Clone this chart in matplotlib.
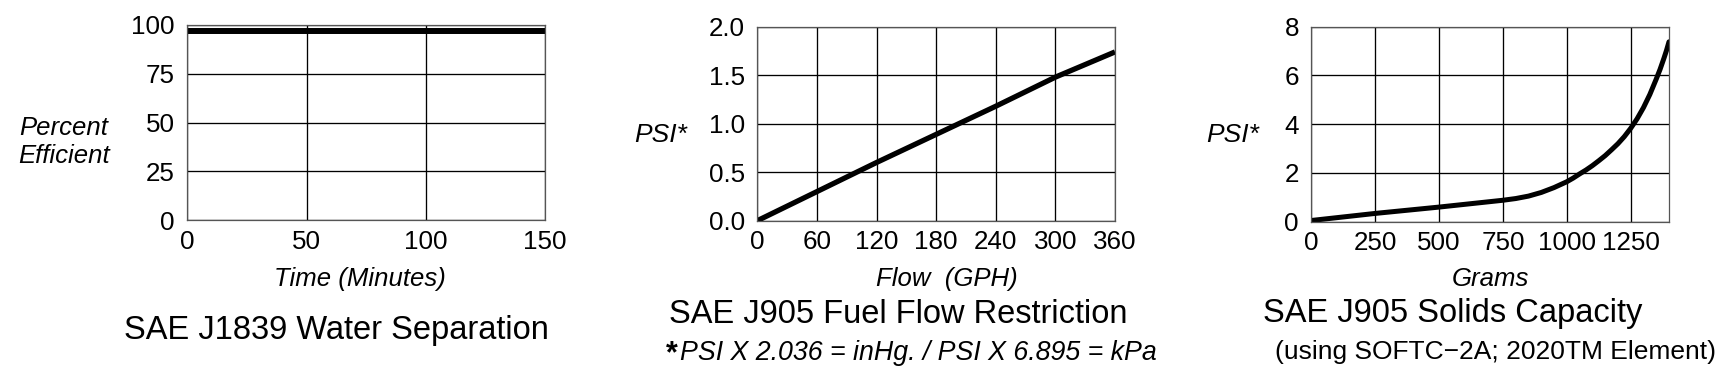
import matplotlib
matplotlib.use("Agg")
import matplotlib.pyplot as plt
import numpy as np

# --- data ---
sep_time = [0, 150]
sep_pct = [96.8, 96.8]
sep_xticks = [0, 50, 100, 150]
sep_yticks = [0, 25, 50, 75, 100]

flow_gph = [0, 60, 120, 180, 240, 300, 360]
flow_psi = [0.0, 0.30, 0.60, 0.89, 1.18, 1.48, 1.74]
flow_xticks = [0, 60, 120, 180, 240, 300, 360]
flow_yticks = [0.0, 0.5, 1.0, 1.5, 2.0]

solids_g = [0, 250, 500, 750, 800, 850, 900, 950, 1000, 1025, 1050, 1075,
            1100, 1125, 1150, 1175, 1200, 1225, 1250, 1275, 1300, 1325,
            1350, 1365, 1380, 1390, 1400]
solids_psi = [0.05, 0.34, 0.60, 0.88, 0.95, 1.05, 1.20, 1.40, 1.64, 1.79,
              1.96, 2.12, 2.30, 2.50, 2.71, 2.95, 3.20, 3.49, 3.83, 4.22,
              4.68, 5.22, 5.85, 6.25, 6.70, 7.02, 7.38]
solids_xticks = [0, 250, 500, 750, 1000, 1250]
solids_yticks = [0, 2, 4, 6, 8]

W, H = 1730, 372
plt.rcParams['font.family'] = ['Liberation Sans', 'DejaVu Sans']
fig = plt.figure(figsize=(W / 100, H / 100), dpi=100)


def px_axes(left, top, right, bottom):
    return fig.add_axes([left / W, 1 - bottom / H, (right - left) / W, (bottom - top) / H])


def style(ax, xticks, yticks, xlim, ylim):
    ax.set_xlim(*xlim)
    ax.set_ylim(*ylim)
    ax.set_xticks(xticks)
    ax.set_yticks(yticks)
    ax.grid(True, color='black', lw=0.95)
    ax.set_axisbelow(True)
    ax.tick_params(length=0, labelsize=18.7)
    ax.tick_params(axis='y', pad=9)
    ax.tick_params(axis='x', pad=7)
    for s in ax.spines.values():
        s.set_color('#555555')
        s.set_linewidth(0.9)
        s.set_zorder(3)


lab = dict(fontsize=18.5, style='italic')

# panel 1
ax1 = px_axes(187.3, 25, 545, 220.3)
style(ax1, sep_xticks, sep_yticks, (0, 150), (0, 100))
ax1.plot(sep_time, sep_pct, color='black', lw=4.3, solid_capstyle='butt')
ax1.set_xlabel('Time (Minutes)', va='baseline', **lab)
ax1.xaxis.set_label_coords(0.483, -0.336)
ax1.set_ylabel('Percent\nEfficient', rotation=0, ha='center', va='center',
               linespacing=1.2, **lab)
ax1.yaxis.set_label_coords(-0.345, 0.40)

# panel 2
ax2 = px_axes(757.3, 26.7, 1115, 220.7)
style(ax2, flow_xticks, flow_yticks, (0, 360), (0, 2))
ax2.yaxis.set_major_formatter(matplotlib.ticker.FormatStrFormatter('%.1f'))
ax2.plot(flow_gph, flow_psi, color='black', lw=3.8, solid_capstyle='butt')
ax2.set_xlabel('Flow  (GPH)', va='baseline', **lab)
ax2.xaxis.set_label_coords(0.529, -0.335)
ax2.set_ylabel('PSI*', rotation=0, ha='center', va='baseline', fontsize=19, style='italic')
ax2.yaxis.set_label_coords(-0.269, 0.407)

# panel 3
ax3 = px_axes(1311.4, 26.7, 1669, 221.7)
style(ax3, solids_xticks, solids_yticks, (0, 1400), (0, 8))
ax3.plot(solids_g, solids_psi, color='black', lw=3.6, solid_capstyle='round',
         solid_joinstyle='round')
ax3.set_xlabel('Grams', va='baseline', **lab)
ax3.xaxis.set_label_coords(0.502, -0.328)
ax3.set_ylabel('PSI*', rotation=0, ha='center', va='baseline', fontsize=19, style='italic')
ax3.yaxis.set_label_coords(-0.221, 0.41)

# titles and notes
def ftext(x, y, s, **kw):
    fig.text(x / W, 1 - y / H, s, va='baseline', **kw)

ftext(336, 339, 'SAE J1839 Water Separation', ha='center', fontsize=23.5)
ftext(898.5, 323.3, 'SAE J905 Fuel Flow Restriction', ha='center', fontsize=23.5)
ftext(666, 362, '*', ha='left', fontsize=22, fontweight='bold')
ftext(680, 360, 'PSI X 2.036 = inHg. / PSI X 6.895 = kPa', ha='left',
      fontsize=19.3, style='italic')
ftext(1453, 321.7, 'SAE J905 Solids Capacity', ha='center', fontsize=23.5)
ftext(1495.5, 359, '(using SOFTC\u22122A; 2020TM Element)', ha='center', fontsize=19)

fig.savefig('out.png', dpi=100)
